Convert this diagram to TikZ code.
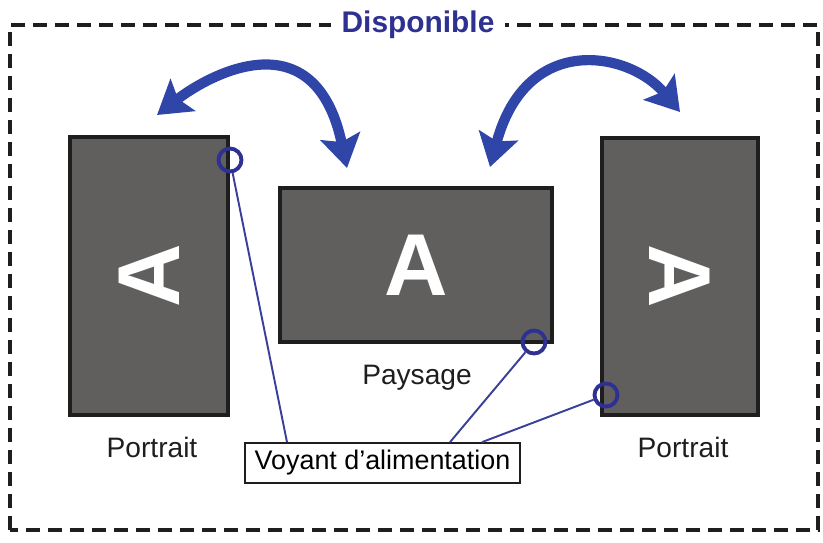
\documentclass[tikz,border=0pt]{standalone}
\usepackage{fontspec}
\setmainfont{Liberation Sans}
\usepackage{tikz}
\usetikzlibrary{arrows.meta,calc,positioning}
\definecolor{ink}{HTML}{1E1E1E}
\definecolor{screengray}{HTML}{615E5E}
\definecolor{paper}{HTML}{FFFFFF}
\definecolor{ledblue}{HTML}{2E3192}
\definecolor{leadblue}{HTML}{3A3F9A}
\definecolor{arcblue}{HTML}{2F45A8}
\tikzset{
  screen/.style={draw=ink,fill=screengray,line width=2.8pt,inner sep=0pt},
  glyph/.style={text=paper,font=\fontsize{50}{50}\selectfont\bfseries},
  ledring/.style={circle,draw=ledblue,line width=2.2pt,minimum size=0.46cm,inner sep=0pt},
  leadline/.style={draw=leadblue,line width=1.1pt},
  turnarr/.style={{Stealth[length=6.5mm,width=8mm,inset=1.2mm]}-{Stealth[length=6.5mm,width=8mm,inset=1.2mm]},line width=5.8pt,color=arcblue},
  caption/.style={font=\fontsize{16}{18}\selectfont,text=ink},
  labelbox/.style={draw=ink,fill=paper,line width=1pt,minimum width=5.5cm,minimum height=0.8cm,inner sep=2pt,font=\fontsize{15.3}{17}\selectfont}
}
\begin{document}
\begin{tikzpicture}[x=1cm,y=1cm,>=Latex]
  \useasboundingbox (0,0) rectangle (16.46,10.84);
  \draw[ink,line width=2pt,dash pattern=on 0.28cm off 0.16cm] (0.2,0.24) rectangle (16.36,10.34);
  \node[fill=paper,text=ledblue,font=\fontsize{17}{19}\selectfont\bfseries,inner xsep=6pt] (avail) at (8.36,10.34) {Disponible};

  % the three screens
  \node[screen,minimum width=3.16cm,minimum height=5.56cm] (left) at (2.98,5.32) {};
  \node[screen,minimum width=5.44cm,minimum height=3.08cm] (mid) at (8.32,5.54) {};
  \node[screen,minimum width=3.12cm,minimum height=5.54cm] (right) at (13.6,5.31) {};
  \node[glyph,rotate=90] (aL) at (left) {A};
  \node[glyph] (aM) at (mid) {A};
  \node[glyph,rotate=-90] (aR) at (right) {A};

  \node[caption] (capL) at (3.04,1.9) {Portrait};
  \node[caption] (capM) at (8.34,3.28) {Paysage};
  \node[caption] (capR) at (13.66,1.9) {Portrait};

  % rotation arrows
  \coordinate (tipL1) at (3.14,8.54);
  \coordinate (tipL2) at (6.94,7.48);
  \coordinate (tipR1) at (9.8,7.5);
  \coordinate (tipR2) at (13.6,8.6);
  \draw[turnarr] (tipL1) .. controls (4.2,9.36) and (6.3,10.5) .. (tipL2);
  \draw[turnarr] (tipR1) .. controls (10.53,10.22) and (12.6,9.8) .. (tipR2);

  % power leds
  \node[ledring] (ledL) at (4.6,7.64) {};
  \node[ledring] (ledM) at (10.68,4.0) {};
  \node[ledring] (ledR) at (12.12,2.94) {};
  \node[labelbox] (lbl) at (7.65,1.58) {Voyant d’alimentation};
  \draw[leadline] (ledL) -- ([xshift=-1.91cm]lbl.north);
  \draw[leadline] (ledM) -- ([xshift=1.35cm]lbl.north);
  \draw[leadline] (ledR) -- ([xshift=1.99cm]lbl.north);
\end{tikzpicture}
\end{document}
